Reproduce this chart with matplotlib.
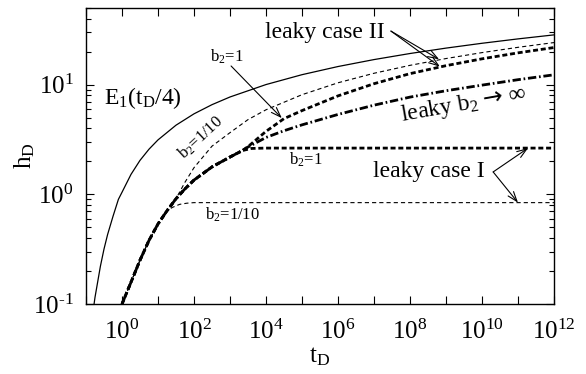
import numpy as np
import matplotlib
matplotlib.use('Agg')
import matplotlib.pyplot as plt
from matplotlib.ticker import FixedLocator, FuncFormatter, NullFormatter

plt.rcParams['font.family'] = ['Liberation Serif', 'DejaVu Serif']
plt.rcParams['mathtext.fontset'] = 'custom'
plt.rcParams['mathtext.rm'] = 'Liberation Serif'
plt.rcParams['mathtext.it'] = 'Liberation Serif:italic'
plt.rcParams['mathtext.bf'] = 'Liberation Serif:bold'
plt.rcParams['mathtext.sf'] = 'DejaVu Sans'
plt.rcParams['mathtext.fallback'] = 'stix'
plt.rcParams['axes.unicode_minus'] = False
plt.rcParams['lines.scale_dashes'] = False

# ---- data (log10 of t_D, and h_D) ----
theis_logt = [-0.85, -0.75, -0.6, -0.5, -0.4, -0.25, -0.1, 0.0, 0.25, 0.5, 0.75,
              1.0, 1.5, 2.0, 2.5, 3.0, 4.0, 5.0, 6.0, 7.0, 8.0, 9.0, 10.0, 11.0, 12.0]
theis_h = [0.067, 0.115, 0.221, 0.317, 0.43, 0.63, 0.90, 1.044, 1.52, 2.04, 2.58,
           3.136, 4.27, 5.42, 6.57, 7.72, 10.02, 12.33, 14.63, 16.93, 19.23, 21.54, 23.84, 26.14, 28.44]

common_logt = [0.0, 0.25, 0.5, 0.75, 1.0, 1.25, 1.5, 1.75, 2.0, 2.5, 3.0, 3.35]
common_h = [0.100, 0.158, 0.251, 0.380, 0.537, 0.708, 0.912, 1.122, 1.349, 1.778, 2.188, 2.512]

# leaky case II, b2 = 1 (thick dashed)
c2b1_logt = common_logt + [3.5, 4.0, 4.5, 5.0, 6.0, 7.0, 8.0, 9.0, 10.0, 11.0, 12.0]
c2b1_h = common_h + [2.72, 3.75, 4.9, 5.8, 7.9, 10.2, 12.6, 14.9, 17.2, 19.5, 21.8]

# leaky case II, b2 = 1/10 (thin dashed)
c2b10_logt = common_logt[:7] + [1.75, 2.0, 2.5, 3.0, 3.5, 4.0, 5.0, 6.0, 7.0, 8.0, 9.0, 10.0, 11.0, 12.0]
c2b10_h = common_h[:7] + [1.29, 1.75, 2.75, 3.65, 4.8, 5.9, 8.1, 10.4, 12.7, 15.0, 17.3, 19.6, 21.9, 24.2]

# leaky b2 -> infinity (thick dash-dot)
inf_logt = common_logt + [3.5, 4.0, 4.5, 5.0, 6.0, 7.0, 8.0, 9.0, 10.0, 11.0, 12.0]
inf_h = common_h + [2.70, 3.3, 3.8, 4.3, 5.35, 6.5, 7.7, 8.8, 9.9, 11.1, 12.3]

# leaky case I, b2 = 1 (thick dashed plateau)
c1b1_logt = common_logt + [3.6, 4.0, 12.0]
c1b1_h = common_h + [2.62, 2.64, 2.64]

# leaky case I, b2 = 1/10 (thin dashed plateau)
c1b10_logt = common_logt[:6] + [1.4, 1.6, 1.8, 2.0, 12.0]
c1b10_h = common_h[:6] + [0.76, 0.81, 0.83, 0.84, 0.84]

x_tick_exp = list(range(-1, 13))
x_label_exp = [0, 2, 4, 6, 8, 10, 12]
y_tick_exp = [-1, 0, 1]


def T(lt):
    return 10.0 ** np.asarray(lt, dtype=float)


def pow_label(e):
    s = str(e).replace('-', '\u2010')
    return r'$10^{%s}$' % s


fig = plt.figure(figsize=(5.86, 3.74), dpi=100)
ax = fig.add_axes([86 / 586, 1 - 304 / 374, 468 / 586, 296 / 374])

thin = dict(color='black', lw=0.8, dashes=(3.0, 2.2))
thick = dict(color='black', lw=2.0, dashes=(3.6, 2.0))
ddot = dict(color='black', lw=2.0, dashes=(6.0, 2.0, 1.2, 2.0))

ax.plot(T(theis_logt), theis_h, color='black', lw=0.9)
ax.plot(T(c2b10_logt), c2b10_h, **thin)
ax.plot(T(c1b10_logt), c1b10_h, **thin)
ax.plot(T(inf_logt), inf_h, **ddot)
ax.plot(T(c2b1_logt), c2b1_h, **thick)
ax.plot(T(c1b1_logt), c1b1_h, **thick)

ax.set_xscale('log')
ax.set_yscale('log')
ax.set_xlim(1e-1, 1e12)
ax.set_ylim(1e-1, 50)

ax.xaxis.set_major_locator(FixedLocator([10.0 ** e for e in x_tick_exp]))
ax.xaxis.set_minor_locator(FixedLocator([]))
ax.xaxis.set_major_formatter(FuncFormatter(
    lambda v, p: pow_label(round(np.log10(v))) if round(np.log10(v)) in x_label_exp else ''))
ax.yaxis.set_major_locator(FixedLocator([10.0 ** e for e in y_tick_exp]))
ax.yaxis.set_major_formatter(FuncFormatter(lambda v, p: pow_label(round(np.log10(v)))))
ax.yaxis.set_minor_locator(FixedLocator([m * 10.0 ** e for e in [-1, 0, 1] for m in range(2, 10)]))
ax.yaxis.set_minor_formatter(NullFormatter())

ax.tick_params(which='both', direction='in', top=True, right=True, labelsize=18)
ax.tick_params(which='major', length=6, width=0.8)
ax.tick_params(which='minor', length=3.5, width=0.8)
ax.tick_params(axis='x', pad=11)
ax.tick_params(axis='y', pad=9)
for s in ax.spines.values():
    s.set_linewidth(1.0)

ax.set_xlabel(r't$_{\mathrm{D}}$', fontsize=18)
ax.set_ylabel(r'h$_{\mathrm{D}}$', fontsize=18)
ax.xaxis.set_label_coords(0.5, -0.14)
ax.yaxis.set_label_coords(-0.105, 0.5)

big = 17
small = 12
ax.text(T(0.58), 7.55, r'E$_1$(t$_{\mathrm{D}}$/4)', fontsize=big, ha='center', va='center')
ax.text(T(5.64), 30.2, 'leaky case II', fontsize=big, ha='center', va='center')
ax.text(T(9.5), 6.6, 'leaky b$_2$ $\\mathsf{\u2192}$ \u221e', fontsize=big, ha='center', va='center',
        rotation=10)
ax.text(T(8.53), 1.6, 'leaky case I', fontsize=big, ha='center', va='center')
ax.text(T(2.92), 17.8, r'b$_2$=1', fontsize=small, ha='center', va='center')
ax.text(T(2.19), 3.26, r'b$_2$=1/10', fontsize=small, ha='center', va='center', rotation=43)
ax.text(T(5.11), 2.06, r'b$_2$=1', fontsize=small, ha='center', va='center')
ax.text(T(3.08), 0.647, r'b$_2$=1/10', fontsize=small, ha='center', va='center')

arw = dict(arrowstyle='->,head_length=0.7,head_width=0.25', color='black', lw=0.8,
           shrinkA=0, shrinkB=0)
ax.annotate('', xy=(T(8.81), 17.0), xytext=(T(7.47), 30.8), arrowprops=arw)
ax.annotate('', xy=(T(8.83), 14.6), xytext=(T(7.47), 30.8), arrowprops=arw)
ax.annotate('', xy=(T(4.44), 4.95), xytext=(T(3.03), 14.8), arrowprops=arw)
ax.annotate('', xy=(T(11.28), 2.64), xytext=(T(10.31), 1.6), arrowprops=arw)
ax.annotate('', xy=(T(11.0), 0.84), xytext=(T(10.31), 1.6), arrowprops=arw)

fig.savefig('out.png', dpi=100)
